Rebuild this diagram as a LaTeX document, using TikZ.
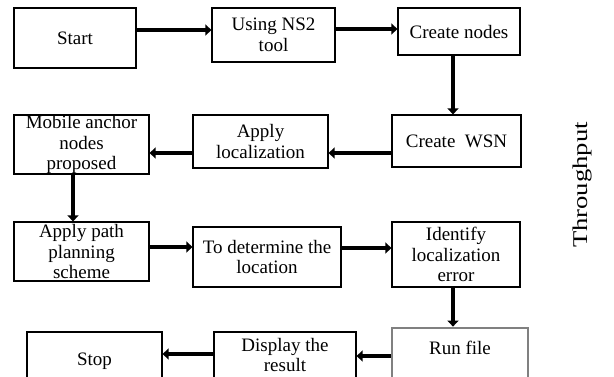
\documentclass[tikz,border=0pt]{standalone}
\usepackage{fontspec}
\setmainfont{Liberation Serif}
\usetikzlibrary{arrows.meta}

\begin{document}
\begin{tikzpicture}[x=1pt,y=1pt]
  \tikzset{box/.style={draw,line width=1.2pt,inner sep=0pt,align=center,font=\fontsize{19}{20.5}\selectfont},
    flow/.style={line width=4.8pt,arrows={-Triangle[length=6pt,width=11pt]}}};
  \useasboundingbox (0,0) rectangle (614,-376);
  \node[box,minimum width=122pt,minimum height=60pt] (start) at (75,-38) {Start};
  \node[box,minimum width=123pt,minimum height=54pt] (ns) at (273.5,-35) {Using NS2\\tool};
  \node[box,minimum width=122pt,minimum height=47pt] (nodes) at (459,-31.5) {Create nodes};
  \node[box,minimum width=129pt,minimum height=52pt] (wsn) at (456.5,-141) {Create~~WSN};
  \node[box,minimum width=135pt,minimum height=53pt] (loc) at (260.5,-141.5) {Apply\\localization};
  \node[box,minimum width=135pt,minimum height=59pt] (mob) at (81.5,-144.5) {Mobile anchor\\nodes\\proposed};
  \node[box,minimum width=135pt,minimum height=59pt] (path) at (81.5,-251.5) {Apply path\\planning\\scheme};
  \node[box,minimum width=148pt,minimum height=60pt] (det) at (267,-257) {To determine the\\location};
  \node[box,minimum width=128pt,minimum height=65pt] (ident) at (456,-254.5) {Identify\\localization\\error};
  \node[box,draw=gray,line width=2.8pt,minimum width=136pt,minimum height=60pt] (run) at (460,-358) {Run file\\\mbox{}};
  \node[box,minimum width=142pt,minimum height=46pt] (disp) at (285,-355) {Display the\\result};
  \node[box,minimum width=135pt,minimum height=58pt] (stop) at (94.5,-361) {Stop};
  \node[rotate=90,font=\fontsize{21}{24}\selectfont] (thr) at (582.5,-185) {\scalebox{1.27}[1]{Throughput}};
  \draw[flow] ([yshift=8pt]start.east) -- ([yshift=8pt]start.east -| ns.west);
  \draw[flow] ([yshift=6pt]ns.east) -- ([yshift=6pt]ns.east -| nodes.west);
  \draw[flow] ([xshift=-6pt]nodes.south) -- ([xshift=-6pt]nodes.south |- wsn.north);
  \draw[flow] ([yshift=-12pt]wsn.west) -- ([yshift=-12pt]wsn.west -| loc.east);
  \draw[flow] ([yshift=-11.5pt]loc.west) -- ([yshift=-11.5pt]loc.west -| mob.east);
  \draw[flow] ([xshift=-8.5pt]mob.south) -- ([xshift=-8.5pt]mob.south |- path.north);
  \draw[flow] ([yshift=4.5pt]path.east) -- ([yshift=4.5pt]path.east -| det.west);
  \draw[flow] ([yshift=9pt]det.east) -- ([yshift=9pt]det.east -| ident.west);
  \draw[flow] ([xshift=-3pt]ident.south) -- ([xshift=-3pt]ident.south |- run.north);
  \draw[flow] ([yshift=2pt]run.west) -- ([yshift=2pt]run.west -| disp.east);
  \draw[flow] ([yshift=1pt]disp.west) -- ([yshift=1pt]disp.west -| stop.east);
\end{tikzpicture}
\end{document}
